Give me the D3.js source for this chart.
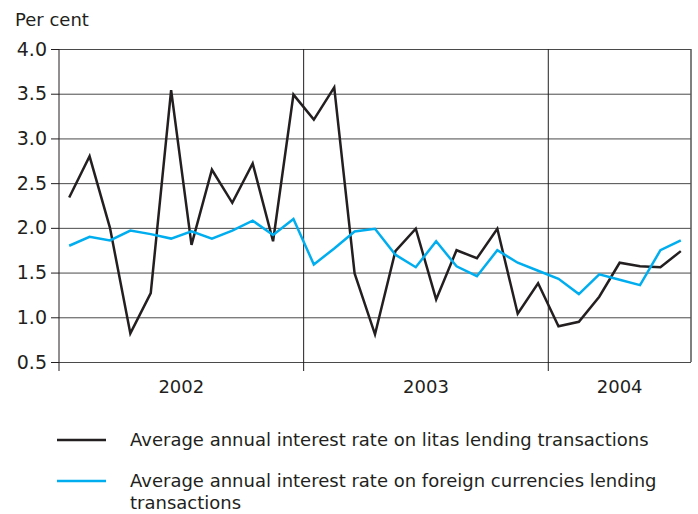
<!DOCTYPE html>
<html>
<head>
<meta charset="utf-8">
<script src="https://cdn.jsdelivr.net/npm/d3@7"></script>
<style>
  body { margin: 0; background: #fff; }
  svg { display: block; font-family: "DejaVu Sans", sans-serif; }
</style>
</head>
<body>
<svg id="chart" width="698" height="514"></svg>
<script>
// monthly periods: 2002 and 2003 full, 2004 Jan-Jul
const months = [
  "2002-01","2002-02","2002-03","2002-04","2002-05","2002-06","2002-07","2002-08","2002-09","2002-10","2002-11","2002-12",
  "2003-01","2003-02","2003-03","2003-04","2003-05","2003-06","2003-07","2003-08","2003-09","2003-10","2003-11","2003-12",
  "2004-01","2004-02","2004-03","2004-04","2004-05","2004-06","2004-07"
]
const years = ["2002", "2003", "2004"]

const litas = [2.34, 2.80, 2.00, 0.82, 1.27, 3.54, 1.81, 2.65, 2.28, 2.72, 1.85, 3.49,
  3.21, 3.57, 1.49, 0.81, 1.74, 1.99, 1.20, 1.75, 1.66, 1.99, 1.04, 1.38,
  0.90, 0.95, 1.23, 1.61, 1.57, 1.56, 1.74]
const foreign = [1.80, 1.90, 1.86, 1.97, 1.93, 1.88, 1.96, 1.88, 1.97, 2.08, 1.92, 2.10,
  1.59, 1.77, 1.96, 1.99, 1.70, 1.56, 1.85, 1.57, 1.46, 1.75, 1.61, 1.52,
  1.43, 1.26, 1.48, 1.42, 1.36, 1.75, 1.86]

const yTicks = [0.5, 1.0, 1.5, 2.0, 2.5, 3.0, 3.5, 4.0]
const legendLabels = [
  ["Average annual interest rate on litas lending transactions"],
  ["Average annual interest rate on foreign currencies lending", "transactions"]
]
const colors = ["#231f20", "#00aeef"]

const margin = { top: 49, right: 7, bottom: 152, left: 59 },
  width = 698 - margin.left - margin.right,
  height = 514 - margin.top - margin.bottom

const font = "'DejaVu Sans', sans-serif"
const svg = d3.select("#chart")
const g = svg.append("g")
  .attr("transform", "translate(" + margin.left + "," + margin.top + ")")

const x = d3.scaleBand().domain(months).range([0, width])
const y = d3.scaleLinear().domain([0.5, 4.0]).range([height, 0])

// horizontal grid
g.append("g")
  .call(d3.axisLeft(y).tickValues(yTicks).tickSize(-width).tickFormat(""))
  .call(s => s.select(".domain").remove())
  .call(s => s.selectAll("line").attr("stroke", "#4a4a4a").attr("stroke-width", 1))

// y axis labels + outer ticks
g.append("g")
  .call(d3.axisLeft(y).tickValues(yTicks).tickSize(8).tickPadding(4).tickFormat(d3.format(".1f")))
  .call(s => s.select(".domain").remove())
  .call(s => s.selectAll("line").attr("stroke", "#231f20"))
  .call(s => s.selectAll("text").attr("font-size", 19).attr("fill", "#231f20")
    .attr("font-family", font))

// year boundaries (vertical lines) — start of each year
const yearStarts = years.map(yr => x(yr + "-01"))
g.selectAll(".vline")
  .data(yearStarts)
  .enter().append("line")
  .attr("x1", d => d).attr("x2", d => d)
  .attr("y1", 0).attr("y2", height + 9)
  .attr("stroke", "#231f20").attr("stroke-width", 1)

// right border
g.append("line")
  .attr("x1", width).attr("x2", width).attr("y1", 0).attr("y2", height)
  .attr("stroke", "#555").attr("stroke-width", 1.5)

// year labels centred in each year's span
const yearEnds = yearStarts.slice(1).concat([width])
g.selectAll(".year")
  .data(years)
  .enter().append("text")
  .attr("x", (d, i) => (yearStarts[i] + yearEnds[i]) / 2)
  .attr("y", height + 31)
  .attr("text-anchor", "middle")
  .attr("font-size", 18)
  .attr("fill", "#231f20")
  .text(d => d)

// lines
const line = d3.line()
  .x((d, i) => x(months[i]) + x.bandwidth() / 2)
  .y(d => y(d))

;[litas, foreign].forEach((series, k) => {
  g.append("path")
    .datum(series)
    .attr("fill", "none")
    .attr("stroke", colors[k])
    .attr("stroke-width", 2.5)
    .attr("stroke-linejoin", "miter")
    .attr("d", line)
})

// unit label
svg.append("text")
  .attr("x", 15).attr("y", 26)
  .attr("font-size", 18)
  .attr("fill", "#231f20")
  .text("Per cent")

// legend
const legendY = [440, 481]
legendLabels.forEach((lines, k) => {
  svg.append("line")
    .attr("x1", 57).attr("x2", 106)
    .attr("y1", legendY[k]).attr("y2", legendY[k])
    .attr("stroke", colors[k]).attr("stroke-width", 2.5)
  lines.forEach((t, j) => {
    svg.append("text")
      .attr("x", 130)
      .attr("y", legendY[k] + 6 + j * 22)
      .attr("font-size", 18)
      .attr("fill", "#231f20")
      .text(t)
  })
})
</script>
</body>
</html>
